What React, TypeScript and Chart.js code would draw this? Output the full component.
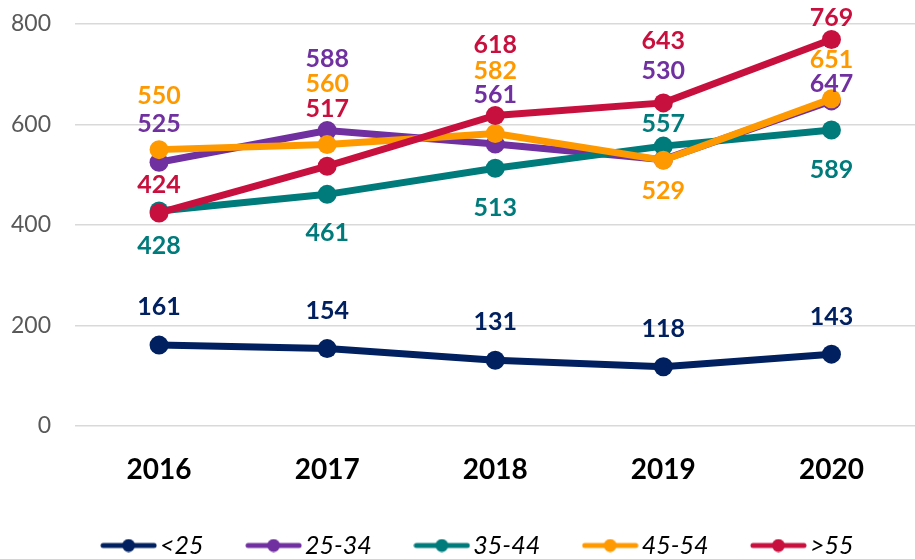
import React, { useEffect, useRef } from "react";
import { Chart, registerables } from "chart.js";

Chart.register(...registerables);

const categories = ["2016", "2017", "2018", "2019", "2020"];
const seriesNames = ["<25", "25-34", "35-44", "45-54", ">55"];
const under25 = [161, 154, 131, 118, 143];
const age25to34 = [525, 588, 561, 530, 647];
const age35to44 = [428, 461, 513, 557, 589];
const age45to54 = [550, 560, 582, 529, 651];
const over55 = [424, 517, 618, 643, 769];
const yTicks = [0, 200, 400, 600, 800];

const seriesValues = [under25, age25to34, age35to44, age45to54, over55];
const colors = ["#002060", "#7030A0", "#007B7B", "#FF9900", "#C8103E"];
// vertical offset (px) of each value label from its point
const labelOffsets = [
  [-38, -38, -38, -38, -37],
  [-38, -72, -49, -89, -17],
  [35, 39, 40, -22, 40],
  [-54, -61, -63, 31, -39],
  [-28, -57, -71, -62, -22],
];

const FONT = "Lato, 'Open Sans', sans-serif";

function makeLegendIcon(color: string): HTMLCanvasElement {
  const c = document.createElement("canvas");
  c.width = 57;
  c.height = 14;
  const g = c.getContext("2d")!;
  g.strokeStyle = color;
  g.lineWidth = 5;
  g.lineCap = "round";
  g.beginPath();
  g.moveTo(3, 7);
  g.lineTo(54, 7);
  g.stroke();
  g.fillStyle = color;
  g.beginPath();
  g.arc(28.5, 7, 6.5, 0, Math.PI * 2);
  g.fill();
  return c;
}

const valueLabelPlugin = {
  id: "valueLabels",
  afterLayout(chart: any) {
    // legend row is centred over the area right of the y-axis labels
    if (chart.legend) chart.legend.left = 38;
  },
  afterDatasetsDraw(chart: any) {
    const ctx = chart.ctx;
    ctx.save();
    ctx.font = `bold 25px ${FONT}`;
    ctx.textAlign = "center";
    ctx.textBaseline = "middle";
    chart.data.datasets.forEach((ds: any, i: number) => {
      const meta = chart.getDatasetMeta(i);
      ctx.fillStyle = colors[i];
      meta.data.forEach((pt: any, j: number) => {
        ctx.fillText(String(ds.data[j]), pt.x, pt.y + labelOffsets[i][j]);
      });
    });
    ctx.restore();
  },
};

export default function App() {
  const ref = useRef<HTMLCanvasElement>(null);

  useEffect(() => {
    const icons = colors.map(makeLegendIcon);
    const chart = new Chart(ref.current!, {
      type: "line",
      data: {
        labels: categories,
        datasets: seriesValues.map((vals, i) => ({
          label: seriesNames[i],
          data: vals,
          borderColor: colors[i],
          backgroundColor: colors[i],
          borderWidth: 7,
          pointRadius: 9.5,
          pointHoverRadius: 9.5,
          pointBorderWidth: 0,
          pointBackgroundColor: colors[i],
          tension: 0,
          order: seriesValues.length - i,
        })),
      },
      options: {
        responsive: false,
        animation: false,
        devicePixelRatio: 1,
        layout: { padding: { left: 0, top: 24, right: 0, bottom: 0 } },
        scales: {
          x: {
            offset: true,
            grid: { display: false },
            border: { display: false },
            ticks: {
              color: "#000000",
              font: { family: FONT, size: 28, weight: "bold", lineHeight: 1 },
              padding: 22,
            },
            afterFit: (s: any) => {
              s.height = 56;
            },
          },
          y: {
            min: 0,
            max: 800,
            afterBuildTicks: (s: any) => {
              s.ticks = yTicks.map((v) => ({ value: v }));
            },
            grid: { color: "#D9D9D9", lineWidth: 1.5, drawTicks: false },
            border: { display: false },
            ticks: {
              color: "#595959",
              font: { family: FONT, size: 23, lineHeight: 1 },
              padding: 24,
            },
            afterFit: (s: any) => {
              s.width = 75;
              s.paddingTop = 0;
              s.paddingBottom = 0;
            },
          },
        },
        plugins: {
          tooltip: { enabled: false },
          legend: {
            position: "bottom",
            labels: {
              usePointStyle: true,
              pointStyleWidth: 38,
              padding: 51,
              color: "#000000",
              font: { family: FONT, size: 25, style: "italic" },
              generateLabels: (ch: any) =>
                ch.data.datasets.map((ds: any, i: number) => ({
                  text: ds.label,
                  pointStyle: icons[i],
                  fillStyle: colors[i],
                  strokeStyle: colors[i],
                  lineWidth: 0,
                  hidden: false,
                  datasetIndex: i,
                  fontColor: "#000000",
                })),
            },
          },
        },
      },
      plugins: [valueLabelPlugin],
    } as any);
    return () => chart.destroy();
  }, []);

  return (
    <div
      style={{
        position: "fixed",
        left: 0,
        top: 0,
        width: 915,
        height: 559,
        overflow: "hidden",
        background: "#ffffff",
      }}
    >
      <canvas ref={ref} width={925} height={568} style={{ display: "block" }} />
    </div>
  );
}
